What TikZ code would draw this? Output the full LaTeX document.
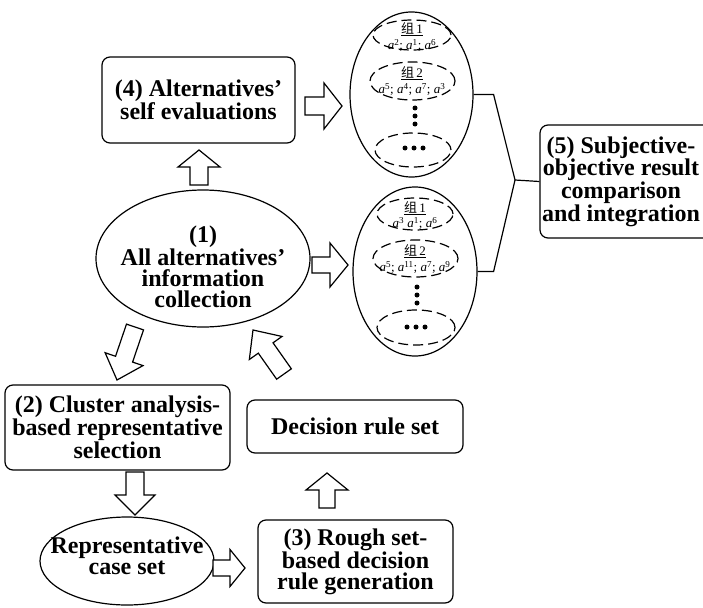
\documentclass[tikz,border=0pt]{standalone}
\usepackage{fontspec}
\setmainfont{Liberation Serif}
\newfontfamily\cjk{Noto Sans CJK SC}
\usetikzlibrary{shapes.geometric,calc}
\newcommand\bigfont{\fontsize{24}{21}\selectfont\bfseries}
\newcommand\smallf{\fontsize{13}{13}\selectfont}
\newcommand\zu[1]{\underline{{\cjk 组}\,#1}}
\newcommand\ak[1]{\textit{a}\textsuperscript{#1}}
\tikzset{
 box/.style={draw, line width=1.2pt, rounded corners=8pt, inner sep=0pt, align=center, font=\bigfont},
 oval/.style={draw, ellipse, line width=1.2pt, inner sep=0pt},
 grp/.style={draw, ellipse, line width=1.2pt, inner sep=0pt, dash pattern=on 10pt off 5pt},
 txt/.style={align=center, font=\bigfont, inner sep=0pt},
 small/.style={font=\smallf, inner sep=0pt},
 arr/.style={draw, fill=white, line width=1.2pt, line join=miter},
 link/.style={line width=1.2pt},
 dot/.style={circle, fill=black, inner sep=0pt, minimum size=5pt},
}
\newcommand\barrow[5]{%
  \coordinate (hb) at ($(#2)!#5!(#1)$);
  \draw[arr] ($(#1)!#3!90:(#2)$) -- ($(hb)!#3!-90:(#1)$) -- ($(hb)!#4!-90:(#1)$) -- (#2)
     -- ($(hb)!#4!90:(#1)$) -- ($(hb)!#3!90:(#1)$) -- ($(#1)!#3!-90:(#2)$) -- cycle;}
\begin{document}
\begin{tikzpicture}[x=1pt,y=-1pt]
\useasboundingbox (0,0) rectangle (703,607);
% main nodes
\node[box, minimum width=193pt, minimum height=86pt] (n4) at (198.5,100) {(4) Alternatives'\\self evaluations};
\node[oval, minimum width=214pt, minimum height=137pt] (n1) at (203,258.5) {};
\node[txt] (n1t) at (203,267) {(1)\\All alternatives'\\information\\collection};
\node[box, minimum width=172pt, minimum height=113pt] (n5) at (626,181.5) {};
\node[txt] (n5t) at (621,181.5) {(5) Subjective-\\objective result\\comparison\\and integration};
\node[box, minimum width=225pt, minimum height=85pt] (n2) at (117.5,427.5) {(2) Cluster analysis-\\based representative\\selection};
\node[box, minimum width=216pt, minimum height=53pt] (rs) at (355,426.5) {Decision rule set};
\node[oval, minimum width=174pt, minimum height=88pt] (rep) at (127,561) {};
\node[txt] (rept) at (127,556) {Representative\\case set};
\node[box, minimum width=195pt, minimum height=83pt] (n3) at (355.5,561.5) {(3) Rough set-\\based decision\\rule generation};
% group ellipses
\node[oval, minimum width=123pt, minimum height=165pt] (ga) at (411.5,94.5) {};
\node[grp, minimum width=78pt, minimum height=30pt] (ga1) at (412,35) {};
\node[small] (ga1t) at (412,29) {\zu{1}};
\node[small] (ga1a) at (412,45.5) {\ak{2}; \ak{1}; \ak{6}};
\node[grp, minimum width=85pt, minimum height=38pt] (ga2) at (412.5,81) {};
\node[small] (ga2t) at (412,73) {\zu{2}};
\node[small] (ga2a) at (412,89.5) {\ak{5}; \ak{4}; \ak{7}; \ak{3}};
\node[dot] (gad1) at (415,108) {};
\node[dot] (gad2) at (415,116) {};
\node[dot] (gad3) at (415,124) {};
\node[grp, minimum width=76pt, minimum height=34pt] (ga3) at (413,150) {};
\node[dot] (gae1) at (405,148) {};
\node[dot] (gae2) at (414,148) {};
\node[dot] (gae3) at (423,148) {};
\node[oval, minimum width=124pt, minimum height=169pt] (gb) at (415,271.5) {};
\node[grp, minimum width=76pt, minimum height=32pt] (gb1) at (415,214) {};
\node[small] (gb1t) at (415,208) {\zu{1}};
\node[small] (gb1a) at (415,223.5) {\ak{3} \ak{1}; \ak{6}};
\node[grp, minimum width=85pt, minimum height=37pt] (gb2) at (415.5,258.5) {};
\node[small] (gb2t) at (415,251) {\zu{2}};
\node[small] (gb2a) at (415,267.5) {\ak{5}; \ak{11}; \ak{7}; \ak{9}};
\node[dot] (gbd1) at (417,287) {};
\node[dot] (gbd2) at (417,295) {};
\node[dot] (gbd3) at (417,303) {};
\node[grp, minimum width=78pt, minimum height=35pt] (gb3) at (416,327.5) {};
\node[dot] (gbe1) at (407,327) {};
\node[dot] (gbe2) at (416,327) {};
\node[dot] (gbe3) at (425,327) {};
% bracket
\coordinate (j) at (515,180);
\draw[link] (ga.east) -- ++(20,0) -- (j) -- (n5.west);
\draw[link] (gb.east) -- ++(16,0) -- (j);
% block arrows
\coordinate (a1s) at (199,185); \coordinate (a1e) at (199,150);
\barrow{a1s}{a1e}{9pt}{21pt}{17pt}
\coordinate (a2s) at (305,106); \coordinate (a2e) at (342,106);
\barrow{a2s}{a2e}{9pt}{23pt}{18pt}
\coordinate (a3s) at (312,265); \coordinate (a3e) at (348,265);
\barrow{a3s}{a3e}{8pt}{22pt}{18pt}
\coordinate (a4s) at (135,327); \coordinate (a4e) at (117,380);
\barrow{a4s}{a4e}{9pt}{20pt}{22pt}
\coordinate (a5s) at (284,374); \coordinate (a5e) at (253,330);
\barrow{a5s}{a5e}{9pt}{20pt}{22pt}
\coordinate (a6s) at (135,472); \coordinate (a6e) at (135,515);
\barrow{a6s}{a6e}{9pt}{20pt}{20pt}
\coordinate (a7s) at (213,568); \coordinate (a7e) at (245,568);
\barrow{a7s}{a7e}{8pt}{18.5pt}{15pt}
\coordinate (a8s) at (327,508); \coordinate (a8e) at (327,473);
\barrow{a8s}{a8e}{8pt}{21pt}{17pt}
\end{tikzpicture}
\end{document}
